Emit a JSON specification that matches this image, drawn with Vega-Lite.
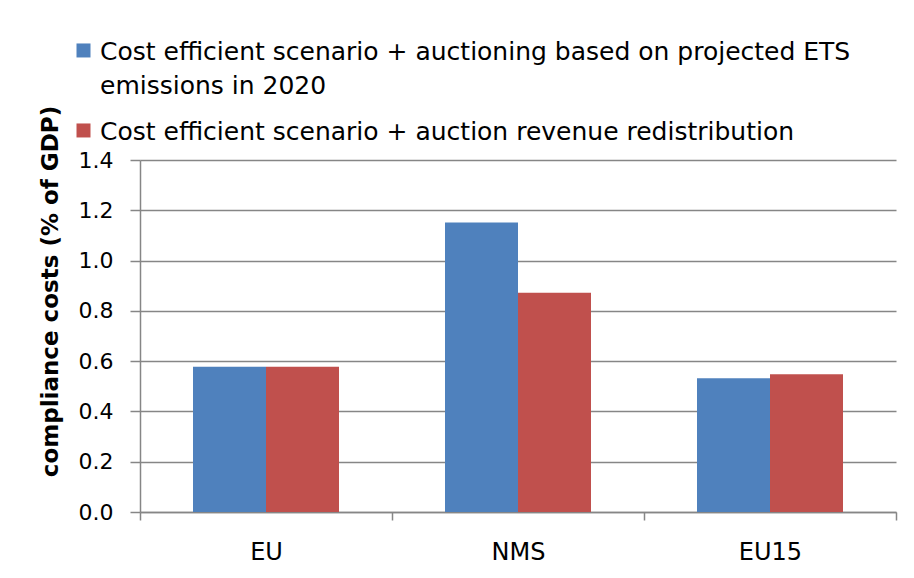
{
  "$schema": "https://vega.github.io/schema/vega-lite/v6.json",
  "width": 756,
  "height": 352,
  "autosize": {"type": "none"},
  "padding": {"left": 140, "top": 160, "right": 18, "bottom": 66},
  "background": "white",
  "data": {
    "values": [
      {"region": "EU", "scenario": "Cost efficient scenario + auctioning based on projected ETS emissions in 2020", "value": 0.578},
      {"region": "EU", "scenario": "Cost efficient scenario + auction revenue redistribution", "value": 0.578},
      {"region": "NMS", "scenario": "Cost efficient scenario + auctioning based on projected ETS emissions in 2020", "value": 1.151},
      {"region": "NMS", "scenario": "Cost efficient scenario + auction revenue redistribution", "value": 0.872},
      {"region": "EU15", "scenario": "Cost efficient scenario + auctioning based on projected ETS emissions in 2020", "value": 0.532},
      {"region": "EU15", "scenario": "Cost efficient scenario + auction revenue redistribution", "value": 0.548}
    ]
  },
  "mark": {"type": "bar"},
  "encoding": {
    "x": {
      "field": "region",
      "type": "nominal",
      "sort": ["EU", "NMS", "EU15"],
      "scale": {"paddingInner": 0, "paddingOuter": 0},
      "axis": {
        "title": null,
        "labelAngle": 0,
        "tickBand": "extent",
        "labelFontSize": 24,
        "labelColor": "#000000",
        "labelPadding": 20,
        "tickSize": 8,
        "tickColor": "#868686",
        "domainColor": "#868686",
        "tickWidth": 1.5,
        "domainWidth": 1.5
      }
    },
    "xOffset": {
      "field": "scenario",
      "sort": ["Cost efficient scenario + auctioning based on projected ETS emissions in 2020", "Cost efficient scenario + auction revenue redistribution"],
      "scale": {"paddingInner": 0, "paddingOuter": 0.726}
    },
    "y": {
      "field": "value",
      "type": "quantitative",
      "scale": {"domain": [0, 1.4]},
      "axis": {
        "values": [0, 0.2, 0.4, 0.6, 0.8, 1.0, 1.2, 1.4],
        "format": ".1f",
        "title": "compliance costs (% of GDP)",
        "titleFontSize": 23,
        "titleFontWeight": "bold",
        "titleColor": "#000000",
        "titleX": -83,
        "titleY": 131,
        "titleBaseline": "alphabetic",
        "titleAlign": "center",
        "labelFontSize": 22,
        "labelColor": "#000000",
        "labelPadding": 17,
        "tickSize": 10,
        "tickColor": "#868686",
        "domainColor": "#868686",
        "gridColor": "#868686",
        "tickWidth": 1.5,
        "domainWidth": 1.5,
        "gridWidth": 1.5
      }
    },
    "color": {
      "field": "scenario",
      "type": "nominal",
      "scale": {
        "domain": ["Cost efficient scenario + auctioning based on projected ETS emissions in 2020", "Cost efficient scenario + auction revenue redistribution"],
        "range": ["#4F81BD", "#C0504D"]
      },
      "legend": {
        "title": null,
        "orient": "none",
        "legendX": -69,
        "legendY": -113,
        "padding": 0,
        "direction": "vertical",
        "symbolType": "M-1,-2.29H1V-0.29H-1Z",
        "symbolSize": 196,
        "symbolStrokeWidth": 0,
        "labelBaseline": "alphabetic",
        "labelFontSize": 25,
        "labelColor": "#000000",
        "labelOffset": 4,
        "labelLimit": 1000,
        "rowPadding": 20,
        "labelExpr": "datum.label == 'Cost efficient scenario + auctioning based on projected ETS emissions in 2020' ? ['Cost efficient scenario + auctioning based on projected ETS', 'emissions in 2020'] : datum.label"
      }
    }
  },
  "config": {
    "view": {"stroke": null},
    "font": "DejaVu Sans",
    "style": {"guide-label": {"lineHeight": 34}}
  }
}
